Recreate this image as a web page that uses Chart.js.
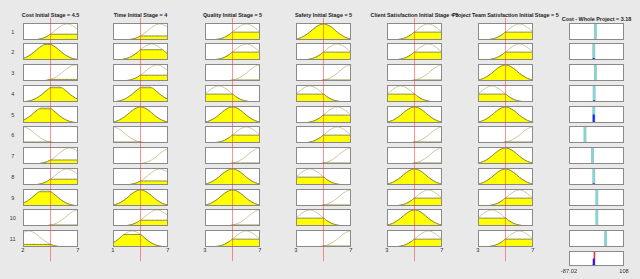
<!DOCTYPE html>
<html>
<head>
<meta charset="utf-8">
<script src="https://cdn.jsdelivr.net/npm/chart.js@4.4.1/dist/chart.umd.min.js"></script>
<style>
html, body { margin: 0; padding: 0; background: #e9e9e9; }
#fig { position: relative; width: 640px; height: 279px; overflow: hidden; font-family: "Liberation Sans", Arial, sans-serif; }
#fig canvas { position: absolute; }
.ttl { position: absolute; font-weight: bold; font-size: 5.4px; white-space: nowrap; transform: translate(-50%, -50%); color: #1a1a1a; }
.rl { position: absolute; font-size: 5.5px; transform: translate(-50%, -50%); color: #333; }
</style>
</head>
<body>
<div id="fig"></div>
<script>
// input variables
const inputNames = ['Cost Initial Stage', 'Time Initial Stage', 'Quality Initial Stage',
    'Safety Initial Stage', 'Client Satisfaction Initial Stage', 'Project Team Satisfaction Initial Stage'];
const inputMin = [2, 1, 3, 3, 3, 3];
const inputMax = [7, 7, 7, 7, 7, 7];
const inputValues = [4.5, 4, 5, 5, 5, 5];

// centre of the membership function used by each rule (rules 1..11)
const costPeaks    = [6, 4.25, 6.75, 5, 4, 2, 6.25, 6, 4, 7, 2.5];
const timePeaks    = [6.1, 5.2, 5.8, 4.6, 4, 1, 7.3, 6.1, 4, 5.8, 3.1];
const qualityPeaks = [6, 6, 7, 4, 5, 6, 7, 5, 5, 7, 6];
const safetyPeaks  = [5, 6, 7, 4, 6, 6, 7, 4, 7, 4, 7];
const clientPeaks  = [6, 6, 7, 4, 5, 7, 7, 5, 6, 5, 6];
const teamPeaks    = [6, 6, 5, 4, 5, 7, 5, 5, 6, 4, 6];
const mfPeaks = [costPeaks, timePeaks, qualityPeaks, safetyPeaks, clientPeaks, teamPeaks];

// bell membership shape, sampled every 5% of the panel width from -100% to +100%
const bellShape = [0, 0, 0, 0, 0, 0, 0, .01, .02, .03, .06, .10, .16, .25, .36, .49, .64, .78, .89, .97,
    1, .97, .89, .78, .64, .49, .36, .25, .16, .10, .06, .03, .02, .01, 0, 0, 0, 0, 0, 0, 0];

// output
const outputName = 'Cost - Whole Project';
const outMin = -87.02;
const outMax = 108;
const outValue = 3.18;
const ruleOutputs   = [6.6, 0.7, 6.6, 2.1, 0.7, -30.5, -3.7, 0.7, 11.6, 11.6, 42.7];
const ruleStrengths = [0.02, 0.12, 0.01, 0.1, 0.5, 0.01, 0.02, 0.1, 0.02, 0.01, 0.02];

// layout
const colLeft = [23, 113, 205, 296, 387, 478];
const outLeft = 569;
const boxW = 55, boxH = 17;
const rowTop0 = 22.7, rowStep = 20.75;
const FONT = 'Liberation Sans';

const fig = document.getElementById('fig');

const boxFrame = {
    id: 'boxFrame',
    beforeDraw(chart) {
        const { ctx, chartArea: a } = chart;
        ctx.save();
        ctx.fillStyle = '#ffffff';
        ctx.fillRect(a.left, a.top, a.width, a.height);
        ctx.restore();
    },
    afterDraw(chart) {
        const { ctx, chartArea: a } = chart;
        ctx.save();
        ctx.strokeStyle = '#8a8a8a';
        ctx.lineWidth = 1;
        ctx.strokeRect(a.left + 0.5, a.top + 0.5, a.width - 1, a.height - 1);
        ctx.restore();
    }
};

function addCanvas(left, top, w, h, z) {
    const c = document.createElement('canvas');
    c.width = w; c.height = h;
    c.style.left = left + 'px';
    c.style.top = top + 'px';
    c.style.zIndex = z || 1;
    fig.appendChild(c);
    return c;
}

function addText(cls, text, x, y) {
    const d = document.createElement('div');
    d.className = cls;
    d.textContent = text;
    d.style.left = x + 'px';
    d.style.top = y + 'px';
    fig.appendChild(d);
}

function rowTop(r) { return Math.round(rowTop0 + r * rowStep); }

const baseOpts = {
    animation: false,
    responsive: false,
    events: [],
    plugins: { legend: { display: false }, tooltip: { enabled: false } },
    elements: { point: { radius: 0 } }
};

function endTicksAxis(min, max, size) {
    return {
        type: 'linear', min: min, max: max,
        afterBuildTicks: s => { s.ticks = [{ value: min }, { value: max }]; },
        grid: { display: false, drawTicks: false },
        border: { display: false },
        ticks: {
            padding: 2, color: '#333', maxRotation: 0, autoSkip: false,
            font: { size: size, family: FONT },
            callback: v => String(v)
        }
    };
}

// membership panels
for (let c = 0; c < 6; c++) {
    const min = inputMin[c], max = inputMax[c], width = max - min;
    for (let r = 0; r < 11; r++) {
        const peak = mfPeaks[c][r];
        const idx = 20 + Math.round((inputValues[c] - peak) / width / 0.05);
        const level = (idx >= 0 && idx < bellShape.length) ? bellShape[idx] : 0;
        const curve = bellShape.map((v, i) => ({ x: peak + (i - 20) * 0.05 * width, y: v }));
        const clipped = bellShape.map((v, i) => ({ x: peak + (i - 20) * 0.05 * width, y: Math.min(v, level) }));

        new Chart(addCanvas(colLeft[c], rowTop(r), boxW, boxH), {
            type: 'line',
            data: {
                datasets: [{
                    data: clipped,
                    borderColor: '#8c8c3a',
                    borderWidth: 1,
                    backgroundColor: '#ffff00',
                    fill: 'origin',
                    cubicInterpolationMode: 'monotone'
                }, {
                    data: curve,
                    borderColor: '#cfc79a',
                    borderWidth: 1,
                    fill: false,
                    cubicInterpolationMode: 'monotone'
                }]
            },
            options: {
                ...baseOpts,
                layout: { padding: 0 },
                scales: {
                    x: { type: 'linear', min: min, max: max, display: false },
                    y: { min: 0, max: 1.06, display: false }
                }
            },
            plugins: [boxFrame]
        });
    }

    // column overlay: input line and axis ends
    new Chart(addCanvas(colLeft[c] - 10, 0, boxW + 20, 279, 5), {
        type: 'line',
        data: {
            datasets: [{
                data: [{ x: inputValues[c], y: -0.072 }, { x: inputValues[c], y: 1 }],
                borderColor: 'rgba(255, 40, 40, 0.5)',
                borderWidth: 1,
                clip: false
            }]
        },
        options: {
            ...baseOpts,
            layout: { padding: { left: 10, right: 10, top: 18, bottom: 23 } },
            scales: {
                x: endTicksAxis(min, max, 6),
                y: { min: 0, max: 1, display: false }
            }
        }
    });

    addText('ttl', inputNames[c] + ' = ' + inputValues[c], colLeft[c] + boxW / 2, 14.7);
}

// rule numbers
for (let r = 0; r < 11; r++) {
    addText('rl', String(r + 1), 12.7, rowTop(r) + boxH / 2);
}

// output panels
for (let r = 0; r < 12; r++) {
    const last = r === 11;
    let datasets;
    if (!last) {
        const o = ruleOutputs[r];
        datasets = [{
            data: [{ x: o, y: 0 }, { x: o, y: ruleStrengths[r] }],
            borderColor: '#1a1aff', borderWidth: 2, borderCapStyle: 'butt'
        }, {
            data: [{ x: o, y: 0 }, { x: o, y: 1 }],
            borderColor: '#8ed0d0', borderWidth: 3, borderCapStyle: 'butt'
        }];
    } else {
        datasets = ruleOutputs.map((o, i) => ({
            data: [{ x: o, y: 0 }, { x: o, y: ruleStrengths[i] }],
            borderColor: '#1a1aff', borderWidth: 2, borderCapStyle: 'butt'
        }));
        datasets.push({
            data: [{ x: outValue, y: 0 }, { x: outValue, y: 1 }],
            borderColor: '#ff2020', borderWidth: 1.5, borderCapStyle: 'butt'
        });
    }
    const padX = last ? 14 : 0;
    const extraH = last ? 12 : 0;
    new Chart(addCanvas(outLeft - padX, rowTop(r), boxW + 2 * padX, boxH + extraH), {
        type: 'line',
        data: { datasets: datasets },
        options: {
            ...baseOpts,
            layout: { padding: last ? { left: padX, right: padX, top: 0, bottom: 3 } : 0 },
            scales: {
                x: last ? endTicksAxis(outMin, outMax, 5.8)
                        : { type: 'linear', min: outMin, max: outMax, display: false },
                y: { min: 0, max: 1, display: false }
            }
        },
        plugins: [boxFrame]
    });
}

addText('ttl', outputName + ' = ' + outValue, outLeft + boxW / 2, 19);
</script>
</body>
</html>
